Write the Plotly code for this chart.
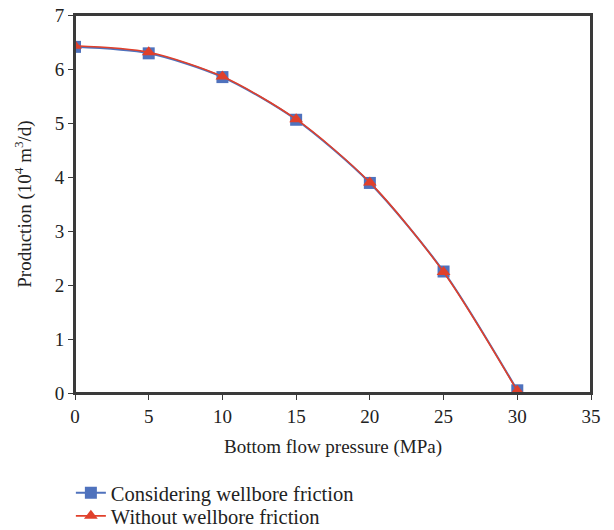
import plotly.graph_objects as go

pressure = [0, 5, 10, 15, 20, 25, 30]
with_friction = [6.41, 6.29, 5.85, 5.06, 3.89, 2.25, 0.05]
without_friction = [6.43, 6.31, 5.86, 5.07, 3.90, 2.24, 0.04]
names = ["Considering wellbore friction", "Without wellbore friction"]

FONT = "Liberation Serif"
BLUE = "#4f72bd"
RED = "#e0402b"

fig = go.Figure()
fig.add_trace(go.Scatter(
    x=pressure, y=with_friction, name=names[0], mode="lines+markers",
    line=dict(color=BLUE, width=2, shape="spline", smoothing=0.8),
    marker=dict(symbol="square", size=12, color=BLUE),
    legend="legend",
))
fig.add_trace(go.Scatter(
    x=pressure, y=without_friction, name=names[1], mode="lines+markers",
    line=dict(color=RED, width=1.6, shape="spline", smoothing=0.8),
    marker=dict(symbol="triangle-up", size=12, color=RED),
    legend="legend2",
))

axis_common = dict(
    showline=True, linecolor="#3a3a3a", linewidth=2, mirror=True,
    ticks="outside", ticklen=5, tickcolor="#3a3a3a", tickwidth=1.2,
    showgrid=False, zeroline=False, automargin=False,
    ticklabeloverflow="allow",
    tickfont=dict(family=FONT, size=19, color="#222222"),
)

leg_common = dict(x=-0.008, xanchor="left", yanchor="middle", xref="paper",
                  bgcolor="rgba(0,0,0,0)", font=dict(family=FONT, size=20.5, color="#222222"))

# page body has an 8px margin, so the figure is offset by 8px on screen
fig.update_layout(
    width=606, height=560,
    margin=dict(l=67, r=23, t=7, b=175),
    paper_bgcolor="white", plot_bgcolor="white",
    font=dict(family=FONT, size=19, color="#222222"),
    xaxis=dict(range=[0, 35], dtick=5, tick0=0,
               title=dict(text="Bottom flow pressure (MPa)", standoff=14,
                          font=dict(family=FONT, size=19)),
               **axis_common),
    yaxis=dict(range=[0, 7], dtick=1, tick0=0,
               title=dict(text="Production (10<sup>4</sup> m<sup>3</sup>/d)", standoff=18,
                          font=dict(family=FONT, size=19)),
               **axis_common),
    legend=dict(y=-0.2646, **leg_common),
    legend2=dict(y=-0.3254, **leg_common),
    showlegend=True,
    shapes=[dict(type="rect", xref="paper", yref="paper", x0=0, x1=1, y0=0, y1=1,
                 line=dict(color="#3a3a3a", width=2), fillcolor="rgba(0,0,0,0)",
                 layer="above")],
)

fig.write_html("out.html")
